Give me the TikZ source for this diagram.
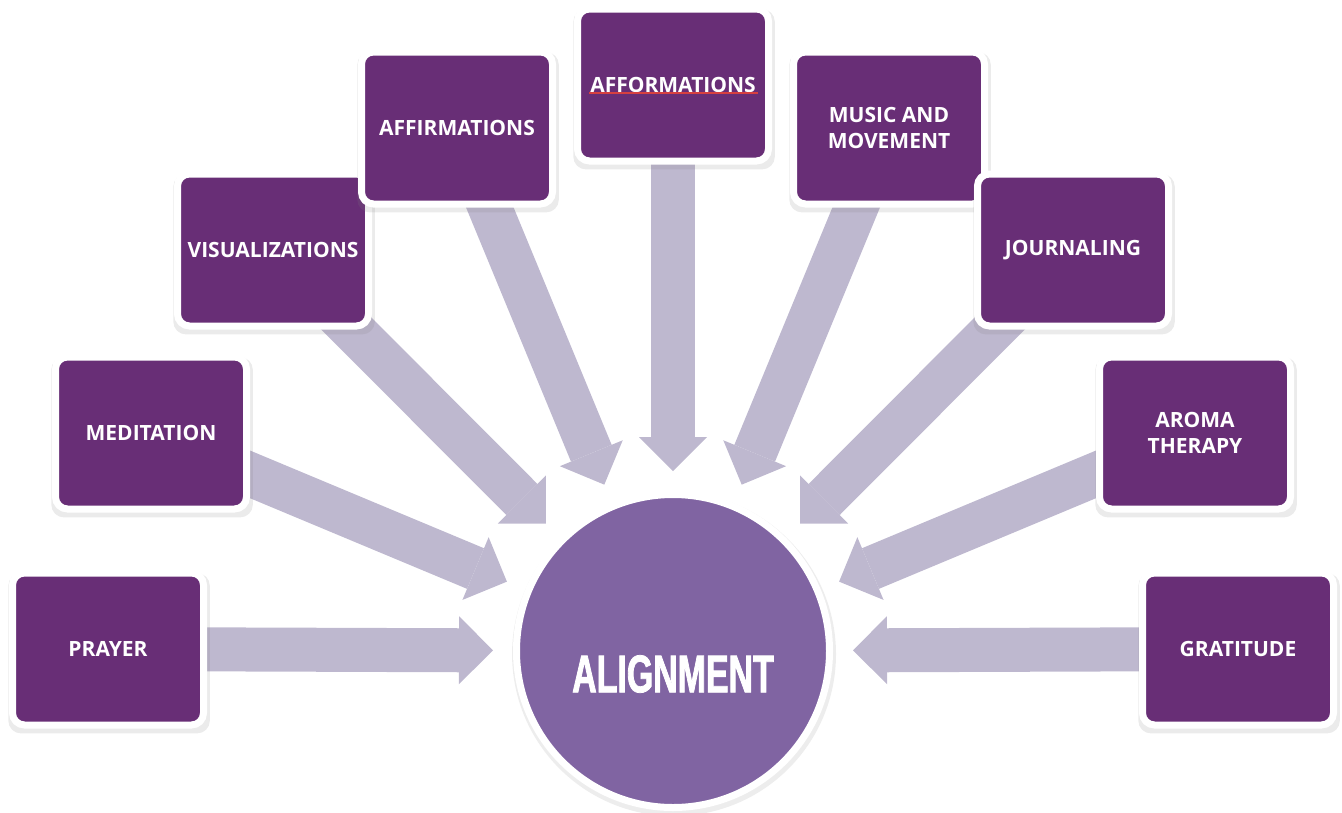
\documentclass[tikz,border=0pt]{standalone}
\usepackage{fontspec}
\usetikzlibrary{arrows.meta,shadows,backgrounds}
\newfontfamily\labelfont{Open Sans}
\newfontfamily\titlefont{Liberation Sans Bold}[FakeStretch=0.64,FakeBold=1.5]
\definecolor{boxpurple}{RGB}{104,46,118}
\definecolor{hubpurple}{RGB}{128,100,162}
\definecolor{arrowlilac}{RGB}{190,184,207}
\definecolor{spellred}{RGB}{214,64,64}

\begin{document}
\begin{tikzpicture}[x=1pt,y=-1pt,
  practice/.style={draw=white, line width=7pt, fill=boxpurple, rounded corners=12pt,
    minimum width=191pt, minimum height=152pt, text=white, align=center,
    font=\labelfont\bfseries\fontsize{21}{25.5}\selectfont,
    drop shadow={shadow scale=1.055, shadow xshift=1pt, shadow yshift=-4pt, opacity=0.16}},
  flow/.style={arrowlilac, line width=44pt, shorten >=20pt,
    -{Triangle[width=68pt, length=34pt, line width=0pt]}}]
\useasboundingbox (0,0) rectangle (1342,812);

% centre
\node[circle, draw=white, line width=7pt, fill=hubpurple, minimum size=313pt,
  drop shadow={shadow scale=1.035, shadow xshift=1pt, shadow yshift=-3pt, opacity=0.14}] (align) at (673,651) {};
\node[text=white, font=\titlefont\fontsize{53}{60}\selectfont] (title) at (673,674) {ALIGNMENT};

% practices
\node[practice] (pray) at (108,649) {PRAYER};
\node[practice] (medit) at (151,433) {MEDITATION};
\node[practice] (visual) at (273,250) {VISUALIZATIONS};
\node[practice] (affirm) at (457,128) {AFFIRMATIONS};
\node[practice] (afform) at (673,85) {AFFORMATIONS};
\node[practice] (music) at (889,128) {MUSIC AND\\MOVEMENT};
\node[practice] (journal) at (1073,250) {JOURNALING};
\node[practice] (aroma) at (1195,433) {AROMA\\THERAPY};
\node[practice] (grat) at (1238,649) {GRATITUDE};
\draw[spellred, line width=1.2pt] ([xshift=-84pt,yshift=-8pt]afform.center) -- ++(169,0);

% arrows into the centre
\begin{scope}[on background layer]
\draw[flow] (pray.center) -- (align);
\draw[flow] (medit.center) -- (align);
\draw[flow] (visual.center) -- (align);
\draw[flow] (affirm.center) -- (align);
\draw[flow] (afform.center) -- (align);
\draw[flow] (music.center) -- (align);
\draw[flow] (journal.center) -- (align);
\draw[flow] (aroma.center) -- (align);
\draw[flow] (grat.center) -- (align);
\end{scope}
\end{tikzpicture}
\end{document}
